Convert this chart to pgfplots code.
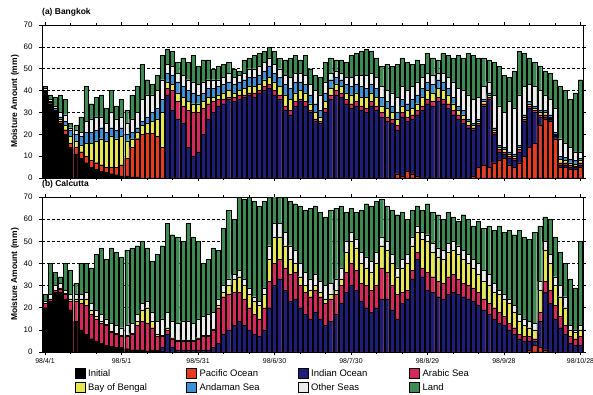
\documentclass[border=0pt]{standalone}
\usepackage{pgfplots}
\pgfplotsset{compat=1.18}
\usepackage{pgfplotstable}
\usepackage{fontspec}
\setmainfont{Liberation Sans}

\definecolor{cInit}{HTML}{000000}
\definecolor{cPac}{HTML}{E63B1F}
\definecolor{cInd}{HTML}{1E1E78}
\definecolor{cArab}{HTML}{D6285A}
\definecolor{cBay}{HTML}{E6E650}
\definecolor{cAnd}{HTML}{3D8FD6}
\definecolor{cOth}{HTML}{EBEBEB}
\definecolor{cLand}{HTML}{3D8A52}

% cumulative tops of each layer: Initial, Pacific, Indian, Arabic, Bay, Andaman, Other, Land(total)
\pgfplotstableread{
d I P N A B M O L
0 40 40 40 40 40 40 41 42
2 34 34 34 34 34.5 35 36 38
4 30 30.5 30.5 30.5 31 32 33 37
6 25 26 26 26 27 28 30 38
8 20 22 22 22 24 26 29 36
10 14 16 16 16 19 22 23 25
12 11 14 14 14 17 20 22 24
14 9 12 12 12 15 19 21 28
16 7 10 10 10 16 21 26 42
18 5 8 8 8 16 21 27 34
20 4 7 7 7 17 22 28 37
22 3 6 6 6 18 23 28 38
24 2.5 5 5 5 17 21 25 32
26 2 5 5 5 19 23 30 40
28 1.5 5 5 5 18 22 27 33
30 1 6 6 6 19 23 28 36
32 1 9 9 9 17 20 25 31
34 0.5 14 14 14 18 21 27 38
36 0.5 18 18 18 21 23 30 42
38 0 20 20 20 24 26 36 52
40 0 20.5 20.5 20.5 25 28 38 45
42 0 20.5 20.5 20.5 26 30 38 43
44 0 19 19 19 27 32 40 47
46 0 14 14 14 30 36 45 56
48 0 0 38 41 44 48 52 59
50 0 0 31 40 43 47 51 58
52 0 0 27 35 39 44 48 53
54 0 0 25 33 37 42 47 55
56 0 0 14 31 35 40 45 53
58 0 0 10 30 34 39 44 56
60 0 0 12 30 34 38 43 51
62 0 0 20 32 35 39 44 54
64 0 0 27 34 37 41 45 54
66 0 0 30 35 37 41 45 50
68 0 0 33 36 38 42 45 51
70 0 0 34 36 39 43 46 52
72 0 0 36 37 40 44 48 53
74 0 0 35 37 39 43 46 50
76 0 0 36 38 40 44 47 49
78 0 0 37 38 41 45 48 54
80 0 0 38 39 42 46 50 55
82 0 0 37 39 42 46 50 56
84 0 0 39 40 43 47 51 57
86 0 0 40 42 45 49 53 58
88 0 0 41 43 46 51 55 60
90 0 0 38 40 44 48 52 58
92 0 0 36 38 42 46 50 55
94 0 0 31 33 38 43 47 54
96 0 0 29 31 36 41 46 55
98 0 0 33 35 39 44 48 56
100 0 0 35 36 40 44 48 54
102 0 0 33 35 39 43 47 56
104 0 0 30 31 34 38 43 50
106 0 0 26 27 30 34 40 47
108 0 0 25 26 28 31 38 46
110 0 0 30 32 35 39 44 53
112 0 0 36 38 41 45 48 55
114 0 0 38 40 43 46 49 54
116 0 0 37 39 42 45 48 54
118 0 0 34 36 39 43 46 53
120 0 0 32 34 38 42 46 56
122 0 0 33 35 39 43 47 57
124 0 0 31 33 37 42 47 58
126 0 0 30 32 37 41 47 59
128 0 0 33 35 39 43 48 58
130 0 0 31 33 37 41 46 55
132 0 0 28 30 33 37 42 51
134 0 0 26 28 32 35 40 52
136 0 0 25 27 30 33 39 51
138 0 2 22 24 27 30 37 52
140 0 1 28 30 33 36 42 55
142 0 3 26 28 31 34 40 53
144 0 2 27 29 32 36 42 52
146 0 1 29 31 34 38 44 54
148 0 0 31 33 37 41 46 52
150 0 0 34 36 40 44 48 57
152 0 0 33 35 39 43 47 55
154 0 0 35 37 41 45 48 54
156 0 0 34 36 40 44 48 57
158 0 0 32 34 38 41 46 56
160 0 0 29 31 34 37 44 55
162 0 0 27 29 31 33 41 56
164 0 0 25 27 29 31 40 55
166 0 0 23 24 26 27 38 57
168 0 1 22 23 24 25 36 56
170 0 5 24 25 26 27 37 55
172 0 6 33 34 35 36 42 55
174 0 5 36 37 38 39 44 54
176 0 7 20 21 22 23 38 53
178 0 8 12 13 14 15 33 51
180 0 9 11 12 13 14 30 47
182 0 6 9 10 11 12 35 46
184 0 5 8 9 10 11 32 49
186 0 7 12 13 14 15 38 58
188 0 10 26 27 28 29 42 57
190 0 14 32 33 34 35 43 55
192 0 16 30 31 32 33 42 53
194 0 24 28 29 30 31 40 51
196 0 27 28 29 30 31 38 49
198 0 26 27 27.5 28 29 36 48
200 0 18 19 19.5 20 21 32 45
202 0 5 6 7 8.5 10 18 42
204 0 5 6 7 8 9.5 16 40
206 0 4 5 6 7 8.5 14 36
208 0 4 5 5.5 6.5 8 12 39
210 0 5 6 7 8 9 12 45
}\bkk

\pgfplotstableread{
d I P N A B M O L
0 20 20 20 22 22 22 23 26
2 23 23 23 24 24 24 26 40
4 27 27 27 28 28 28 30 36
6 27 27 27 28.5 29 29 31 34
8 24 24 24 26 26.5 26.5 28 40
10 19 19 19 23 24 24 26 37
12 14 14 14 23 24 24 26 31
14 10 10 10 22 24 24 26 40
16 8 8 8 21 24 24 27 40
18 6 6 6 17 19 19 22 38
20 5 5 5 15 16 16 19 44
22 4 4 4 13 14 14 17 47
24 3 3 3 12 12.5 12.5 15 42
26 2.5 2.5 2.5 9 9.5 9.5 13 47
28 2 2 2 8 8.5 8.5 12 45
30 2 2 2 7 7.5 7.5 11 43
32 1.5 1.5 1.5 7 7.5 7.5 12 46
34 1 1 1 8 8.5 8.5 13 47
36 1 1 1 12 14 14 17 48
38 1 1 1 14 19 19 22 50
40 0.5 0.5 0.5 13 20 20 23 47
42 0.5 0.5 1 11 14 14 18 41
44 0.5 0.5 1 7 8 8 14 44
46 0.5 0.5 2 7 7.5 7.5 15 48
48 0 0 8 10 11 11 18 58
50 0 0 2 6 6.5 6.5 14 53
52 0 0 1 5 5.5 5.5 13 52
54 0 0 1 5 5.5 5.5 14 50
56 0 0 1 5 5.5 5.5 14 58
58 0 0 1 5 5.5 5.5 13 52
60 0 0 1 6 6.5 6.5 15 50
62 0 0 1 7 7.5 7.5 16 40
64 0 0 1 7 7.5 7.5 17 42
66 0 0 2 10 10.5 10.5 18 47
68 0 0 4 20 21 21 24 46
70 0 0 8 25 27 27 30 56
72 0 0 10 26 30 30 33 64
74 0 0 12 27 33 33 35 60
76 0 0 14 27 34 34 37 70
78 0 0 12 24 30 30 33 69
80 0 0 10 20 26 26 29 70
82 0 0 8 17 23 23 25 68
84 0 0 7 15 21 21 23 66
86 0 0 10 20 26 26 29 68
88 0 0 20 32 42 42 48 70
90 0 0 30 40 52 52 58 71
92 0 0 33 42 52 52 58 70
94 0 0 28 38 48 48 54 70
96 0 0 23 35 42 42 48 68
98 0 0 24 36 40 40 46 67
100 0 0 20 30 34 34 40 66
102 0 0 17 27 30 30 36 64
104 0 0 15 25 28 28 33 65
106 0 0 18 28 30 30 35 66
108 0 0 15 25 27 27 32 63
110 0 0 12 22 24 24 30 61
112 0 0 14 24 26 26 31 64
114 0 0 17 26 28 28 33 65
116 0 0 22 30 33 33 38 66
118 0 0 27 36 45 45 50 63
120 0 0 30 40 50 50 54 65
122 0 0 28 37 47 47 51 63
124 0 0 23 31 40 40 45 64
126 0 0 20 30 38 38 43 67
128 0 0 18 28 36 36 41 66
130 0 0 20 30 40 40 45 68
132 0 0 24 38 48 48 52 69
134 0 0 24 36 46 46 50 66
136 0 0 19 30 40 40 44 64
138 0 0 15 26 34 34 38 62
140 0 0 22 27 38 38 42 63
142 0 0 24 28 40 40 44 60
144 0 0 33 37 48 48 52 64
146 0 0 42 45 54 54 57 66
148 0 0 34 38 51 51 54 64
150 0 0 28 36 50 50 53 67
152 0 0 27 34 45 45 49 63
154 0 0 25 32 43 43 47 62
156 0 0 24 31 42 42 46 60
158 0 0 26 34 45 45 49 63
160 0 0 27 35 46 46 50 61
162 0 0 26 33 44 44 48 59
164 0 0 25 31 42 42 46 62
166 0 0 24 30 40 40 44 60
168 0 0 23 29 38 38 42 57
170 0 0 21 27 35 35 40 59
172 0 0 19 24 32 32 37 56
174 0 0 17 22 30 30 35 57
176 0 0 15 20 27 27 31 55
178 0 0 13 18 26 26 28 57
180 0 0 12 16 24 24 26 54
182 0 0 10 13 22 22 24 55
184 0 0 8 11 18 18 21 53
186 0 0 6 8 14 14 17 55
188 0 0 5 7 12 12 15 52
190 0 1 5 7 11 11 14 51
192 0 3 5 6 10 10 13 54
194 0 2 14 18 28 28 32 57
196 0 1 27 32 46 46 50 61
198 0 0 22 28 40 40 44 60
200 0 0 15 21 30 30 34 52
202 0 0 11 16 25 25 30 45
204 0 0 8 12 20 20 25 40
206 0 0 4 7 10 10 12 33
208 0 0 3 6 9 9 10 29
210 0 0 3 7 10 10 12 50
}\ccu

\pgfplotsset{
  lay/.style={ybar, bar width=1.6, bar shift=0pt, draw=black, line width=0.2bp, forget plot},
  panel/.style={
    scale only axis, width=541bp, xmin=-1.2, xmax=211, ymin=0, ymax=70,
    xtick={0,30,...,210}, minor x tick num=2, ytick={0,10,...,70},
    tick align=outside, major tick length=3bp, minor tick length=2bp,
    axis line style={line width=0.8bp},
    every tick/.style={black, line width=0.6bp},
    ymajorgrids, grid style={dash pattern=on 3bp off 2bp, line width=0.6bp, black},
    yticklabel style={font=\fontsize{8}{9}\selectfont, xshift=-3bp},
    xticklabel style={font=\fontsize{7}{8}\selectfont},
    /pgf/number format/assume math mode=true,
    ylabel={\bfseries Moisture Amount (mm)},
    ylabel style={font=\fontsize{8.5}{10}\selectfont, at={(axis description cs:-0.05,0.5)}, anchor=center},
    title style={font=\fontsize{8.5}{10}\selectfont\bfseries, at={(axis description cs:0,1.03)}, anchor=base west, inner sep=0pt},
  },
}

\begin{document}
\begin{tikzpicture}
\useasboundingbox (0,0) rectangle (593bp,395bp);
\begin{axis}[panel, at={(42bp,217bp)}, anchor=south west, height=153bp,
  xticklabels={}, title={(a) Bangkok}]
\addplot[lay, fill=cLand] table[x=d,y=L] {\bkk};
\addplot[lay, fill=cOth] table[x=d,y=O] {\bkk};
\addplot[lay, fill=cAnd] table[x=d,y=M] {\bkk};
\addplot[lay, fill=cBay] table[x=d,y=B] {\bkk};
\addplot[lay, fill=cArab] table[x=d,y=A] {\bkk};
\addplot[lay, fill=cInd] table[x=d,y=N] {\bkk};
\addplot[lay, fill=cPac] table[x=d,y=P] {\bkk};
\addplot[lay, fill=cInit] table[x=d,y=I] {\bkk};
\end{axis}
\begin{axis}[panel, at={(42bp,43bp)}, anchor=south west, height=155bp,
  xticklabels={98/4/1,98/5/1,98/5/31,98/6/30,98/7/30,98/8/29,98/9/28,98/10/28},
  title={(b) Calcutta},
  legend columns=4,
  legend style={at={(axis description cs:0.06,-0.105)}, anchor=north west, draw=none, fill=none,
    font=\fontsize{9.5}{11}\selectfont, inner sep=0pt, row sep=3.5bp, column sep=0pt,
    nodes={inner sep=1bp}},
  legend cell align=left,
  legend image code/.code={\draw[#1, draw=black, line width=0.5bp] (0bp,-5bp) rectangle (10bp,5bp);},
  ]
\addplot[lay, fill=cLand] table[x=d,y=L] {\ccu};
\addplot[lay, fill=cOth] table[x=d,y=O] {\ccu};
\addplot[lay, fill=cAnd] table[x=d,y=M] {\ccu};
\addplot[lay, fill=cBay] table[x=d,y=B] {\ccu};
\addplot[lay, fill=cArab] table[x=d,y=A] {\ccu};
\addplot[lay, fill=cInd] table[x=d,y=N] {\ccu};
\addplot[lay, fill=cPac] table[x=d,y=P] {\ccu};
\addplot[lay, fill=cInit] table[x=d,y=I] {\ccu};
\addlegendimage{fill=cInit}\addlegendentry{\hspace{2bp}\makebox[97bp][l]{Initial}}
\addlegendimage{fill=cPac}\addlegendentry{\hspace{2bp}\makebox[97bp][l]{Pacific Ocean}}
\addlegendimage{fill=cInd}\addlegendentry{\hspace{2bp}\makebox[97bp][l]{Indian Ocean}}
\addlegendimage{fill=cArab}\addlegendentry{\hspace{2bp}\makebox[97bp][l]{Arabic Sea}}
\addlegendimage{fill=cBay}\addlegendentry{\hspace{2bp}\makebox[97bp][l]{Bay of Bengal}}
\addlegendimage{fill=cAnd}\addlegendentry{\hspace{2bp}\makebox[97bp][l]{Andaman Sea}}
\addlegendimage{fill=cOth}\addlegendentry{\hspace{2bp}\makebox[97bp][l]{Other Seas}}
\addlegendimage{fill=cLand}\addlegendentry{\hspace{2bp}\makebox[97bp][l]{Land}}
\end{axis}
\end{tikzpicture}
\end{document}
